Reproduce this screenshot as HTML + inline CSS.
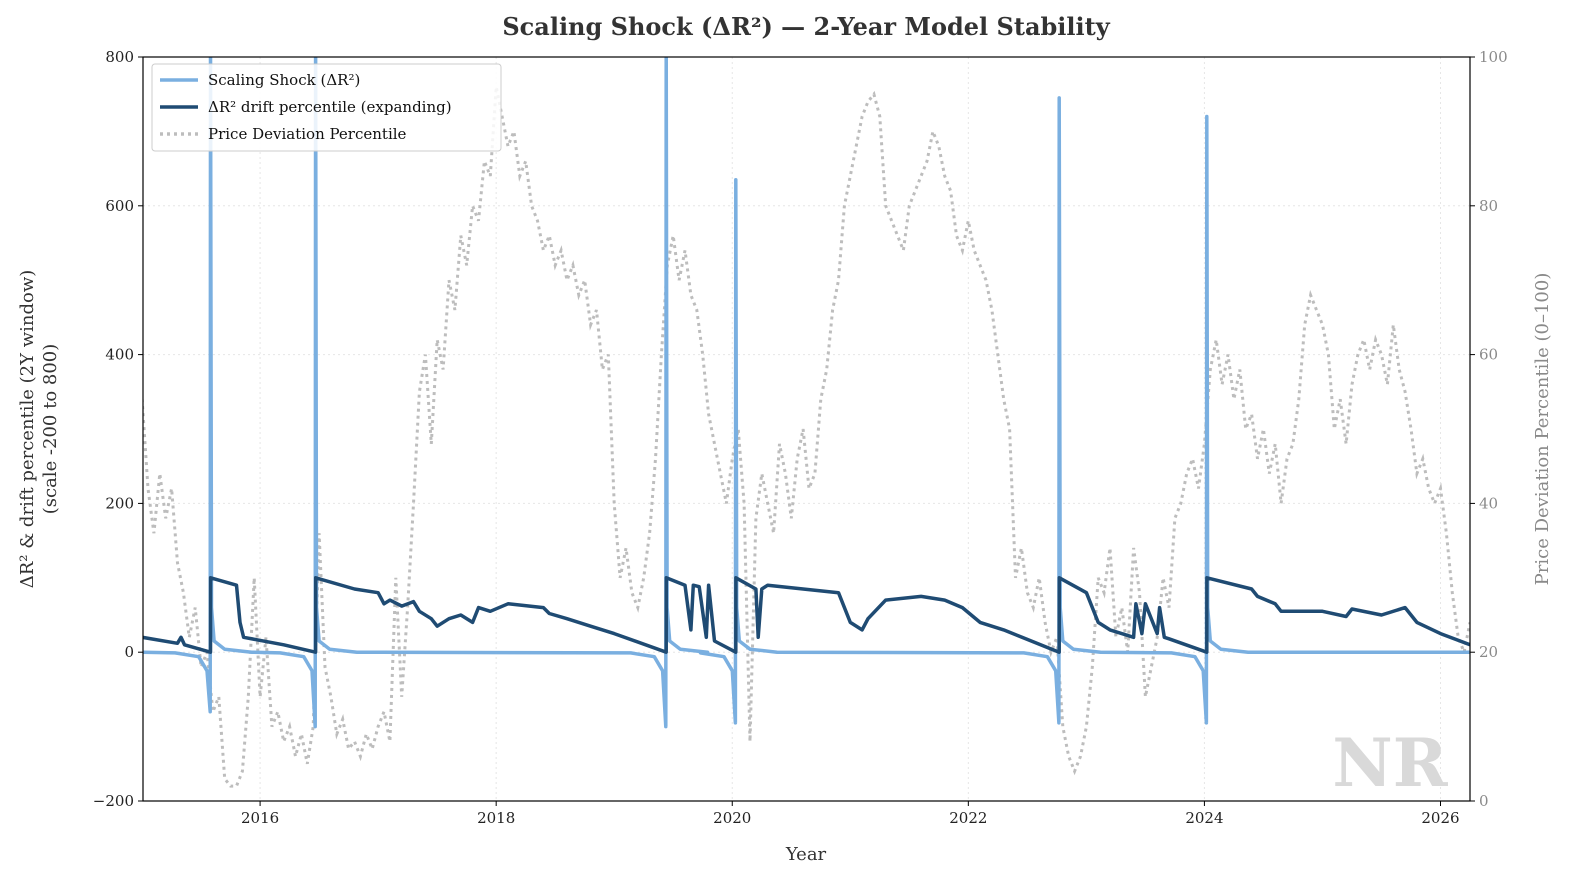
<!DOCTYPE html>
<html><head><meta charset="utf-8"><style>
body{margin:0;background:#fff;}
svg{display:block;font-family:"DejaVu Serif","Liberation Serif",serif;}
</style></head><body>
<svg id="chart" width="1576" height="885" xmlns="http://www.w3.org/2000/svg"></svg>
<script>
// ---- data ----
const spikeYears = [2015.58, 2016.47, 2019.44, 2020.03, 2022.77, 2024.02];
const spikePeaks = [830, 830, 830, 635, 745, 720];
const spikeTroughs = [-80, -100, -100, -95, -95, -95];
const driftYears = [2015.0,2015.3,2015.33,2015.36,2015.58,2015.581,2015.8,2015.83,2015.86,2016.2,2016.47,2016.471,2016.8,2017.0,2017.05,2017.1,2017.2,2017.3,2017.35,2017.45,2017.5,2017.6,2017.7,2017.8,2017.85,2017.95,2018.1,2018.4,2018.45,2018.6,2018.8,2019.0,2019.44,2019.441,2019.6,2019.65,2019.67,2019.72,2019.78,2019.8,2019.85,2020.03,2020.031,2020.2,2020.22,2020.25,2020.3,2020.6,2020.9,2021.0,2021.1,2021.15,2021.3,2021.6,2021.8,2021.95,2022.1,2022.3,2022.77,2022.771,2023.0,2023.1,2023.2,2023.4,2023.42,2023.47,2023.5,2023.6,2023.62,2023.66,2023.7,2024.02,2024.021,2024.4,2024.45,2024.6,2024.65,2025.0,2025.2,2025.25,2025.5,2025.7,2025.8,2026.0,2026.25];
const driftValues = [20,12,20,10,0,100,90,40,20,10,0,100,85,80,65,70,62,68,55,45,35,45,50,40,60,55,65,60,52,45,35,25,0,100,90,30,90,88,20,90,15,0,100,85,20,85,90,85,80,40,30,45,70,75,70,60,40,30,0,100,80,40,30,20,65,25,65,25,60,20,18,0,100,85,75,65,55,55,48,58,50,60,40,25,10];
const priceStart = 2015.0;
const priceStep = 0.05;
const priceValues = [54,42,36,44,38,42,32,28,22,26,18,20,12,14,3,2,2,4,14,30,
14,22,10,12,8,10,6,9,5,10,36,18,14,9,11,7,8,6,9,7,
10,12,8,30,14,26,40,55,60,48,62,58,70,66,76,72,80,78,86,84,
96,92,88,90,84,86,80,78,74,76,72,74,70,72,68,70,64,66,58,60,
40,30,34,28,26,30,36,46,60,72,76,70,74,68,66,60,52,48,44,40,
46,50,40,8,38,44,40,36,48,44,38,46,50,42,44,54,58,66,70,80,
84,88,92,94,95,92,80,78,76,74,80,82,84,86,90,88,84,82,76,74,
78,74,72,70,66,60,54,50,30,34,28,26,30,24,20,22,10,6,4,6,
10,18,30,28,34,22,26,20,34,28,14,18,22,30,26,38,40,44,46,42,
48,58,62,56,60,54,58,50,52,46,50,44,48,40,46,48,54,64,68,66,
64,60,50,54,48,56,60,62,58,62,60,56,64,58,55,50,44,46,42,40,
42,36,28,22,20,24];
const xTicks = [2016,2018,2020,2022,2024,2026];
const yTicks = [-200,0,200,400,600,800];
const y2Ticks = [0,20,40,60,80,100];

const L=143,R=1470,T=57,B=801;
const x0=2015.008,x1=2026.25;
const X=v=>L+(v-x0)/(x1-x0)*(R-L);
const Y=v=>B-(v+200)/1000*(B-T);
const Y2=v=>B-v/100*(B-T);
const NS="http://www.w3.org/2000/svg";
const svg=document.getElementById('chart');
function mk(tag,attrs,parent){const e=document.createElementNS(NS,tag);for(const k in attrs)e.setAttribute(k,attrs[k]);(parent||svg).appendChild(e);return e;}
function txt(s,attrs){const e=mk('text',attrs);e.textContent=s;return e;}

const defs=mk('defs',{});const cp=mk('clipPath',{id:'clip'},defs);mk('rect',{x:L,y:T,width:R-L,height:B-T},cp);

const grid=mk('g',{});


xTicks.forEach(t=>mk('line',{x1:X(t),x2:X(t),y1:T,y2:B,stroke:'#e6e6e6','stroke-dasharray':'2,3','stroke-width':1},grid));
yTicks.forEach(t=>mk('line',{x1:L,x2:R,y1:Y(t),y2:Y(t),stroke:'#e6e6e6','stroke-dasharray':'2,3','stroke-width':1},grid));

const wm=txt('NR',{x:1390,y:786,'font-size':66,'font-weight':'bold',fill:'#d9d9d9','text-anchor':'middle'});



const plot=mk('g',{'clip-path':'url(#clip)'});
let d=priceValues.map((v,i)=>(i?'L':'M')+X(priceStart+i*priceStep).toFixed(1)+','+Y2(v).toFixed(1)).join('');
const pl=mk('path',{d:d,fill:'none',stroke:'#bdbdbd','stroke-width':3,'stroke-dasharray':'3,4'},plot);



let pts=[[x0,0]];
spikeYears.forEach((t,i)=>{
  pts.push([t-0.3,-1],[t-0.1,-6],[t-0.03,-25],[t-0.003,spikeTroughs[i]],[t,spikePeaks[i]],[t+0.008,60],[t+0.03,15],[t+0.12,4],[t+0.35,0]);
});
pts.push([x1,0]);
d=pts.map((p,i)=>(i?'L':'M')+X(p[0]).toFixed(1)+','+Y(p[1]).toFixed(1)).join('');
const sl=mk('path',{d:d,fill:'none',stroke:'#7aafe0','stroke-width':3.5,'stroke-linejoin':'round'},plot);



d=driftYears.map((t,i)=>(i?'L':'M')+X(t).toFixed(1)+','+Y(driftValues[i]).toFixed(1)).join('');
const dl=mk('path',{d:d,fill:'none',stroke:'#1f4b73','stroke-width':3.5,'stroke-linejoin':'round'},plot);



mk('rect',{x:L,y:T,width:R-L,height:B-T,fill:'none',stroke:'#000','stroke-width':1.2});

xTicks.forEach(t=>{mk('line',{x1:X(t),x2:X(t),y1:B,y2:B+5,stroke:'#000'});
  const e=txt(String(t),{x:X(t),y:B+22,'font-size':15,'text-anchor':'middle',fill:'#222'});
  });
yTicks.forEach(t=>{mk('line',{x1:L-5,x2:L,y1:Y(t),y2:Y(t),stroke:'#000'});
  const e=txt(String(t).replace('-','−'),{x:L-9,y:Y(t)+5,'font-size':15,'text-anchor':'end',fill:'#222'});
  });
y2Ticks.forEach(t=>{mk('line',{x1:R,x2:R+5,y1:Y2(t),y2:Y2(t),stroke:'#000'});
  const e=txt(String(t),{x:R+9,y:Y2(t)+5,'font-size':15,'text-anchor':'start',fill:'#8a8a8a'});
  });
</script>
<script>
const s=document.getElementById('chart');
function T2(str,a,name){const e=document.createElementNS("http://www.w3.org/2000/svg",'text');for(const k in a)e.setAttribute(k,a[k]);e.textContent=str;s.appendChild(e);return e;}
T2('Scaling Shock (ΔR²) — 2-Year Model Stability',{x:806,y:35,'font-size':24,'font-weight':'bold','text-anchor':'middle',fill:'#333'},'chart-title');
T2('Year',{x:806,y:860,'font-size':18,'text-anchor':'middle',fill:'#333'},'x-axis-title');
T2('ΔR² & drift percentile (2Y window)',{x:0,y:0,'font-size':18,'text-anchor':'middle',fill:'#333',transform:'translate(33,429) rotate(-90)'},'y-axis-title');
T2('(scale -200 to 800)',{x:0,y:0,'font-size':18,'text-anchor':'middle',fill:'#333',transform:'translate(56,429) rotate(-90)'},'y-axis-subtitle');
T2('Price Deviation Percentile (0–100)',{x:0,y:0,'font-size':18,'text-anchor':'middle',fill:'#8a8a8a',transform:'translate(1548,429) rotate(-90)'},'y2-axis-title');
const NS2="http://www.w3.org/2000/svg";
const lg=document.createElementNS(NS2,'g');s.appendChild(lg);
const bx=document.createElementNS(NS2,'rect');
[['x',152],['y',64],['width',349],['height',87],['rx',3],['fill','#fff'],['fill-opacity','0.85'],['stroke','#ccc']].forEach(p=>bx.setAttribute(p[0],p[1]));lg.appendChild(bx);
const items=[['Scaling Shock (ΔR²)','#7aafe0',null],['ΔR² drift percentile (expanding)','#1f4b73',null],['Price Deviation Percentile','#bdbdbd','3,4']];
items.forEach((it,i)=>{const y=80+i*27;
  const ln=document.createElementNS(NS2,'line');
  [['x1',160],['x2',198],['y1',y],['y2',y],['stroke',it[1]],['stroke-width',3.5]].forEach(p=>ln.setAttribute(p[0],p[1]));
  if(it[2])ln.setAttribute('stroke-dasharray',it[2]);lg.appendChild(ln);
  const t=document.createElementNS(NS2,'text');
  [['x',208],['y',y+5],['font-size',15],['fill','#111']].forEach(p=>t.setAttribute(p[0],p[1]));
  t.textContent=it[0];
  
  
  lg.appendChild(t);});
</script>
</body></html>
